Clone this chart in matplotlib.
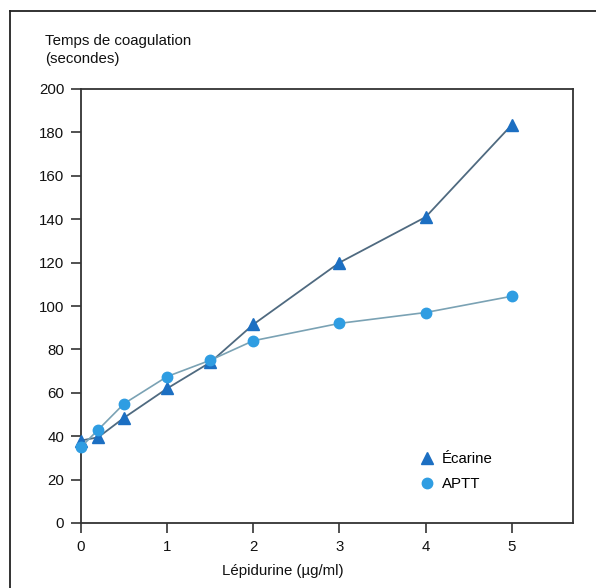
import matplotlib.pyplot as plt
from matplotlib.lines import Line2D

plt.rcParams['font.family'] = ['Liberation Sans', 'DejaVu Sans']

# Lépidurine concentration (µg/ml)
dose = [0, 0.2, 0.5, 1, 1.5, 2, 3, 4, 5]
# Temps de coagulation (s)
ecarine = [38, 39.5, 48.5, 62, 74, 91.5, 120, 141, 183.5]
aptt = [35, 43, 55, 67.5, 75, 84, 92, 97, 104.5]

x_ticks = [0, 1, 2, 3, 4, 5]
y_ticks = [0, 20, 40, 60, 80, 100, 120, 140, 160, 180, 200]

W, H = 596, 588
fig = plt.figure(figsize=(W / 100, H / 100), dpi=100)
ax = fig.add_axes([81 / W, 1 - 523 / H, (573 - 81) / W, (523 - 89) / H])

c_tri = '#1c6fc2'
c_dot = '#2f9de2'
ax.plot(dose, ecarine, color='#4f6a80', lw=1.3, marker='^', ms=9,
        mfc=c_tri, mec=c_tri, clip_on=False, zorder=3)
ax.plot(dose, aptt, color='#7aa2b4', lw=1.2, marker='o', ms=7.5,
        mfc=c_dot, mec=c_dot, clip_on=False, zorder=3)

ax.set_xlim(0, 5.71)
ax.set_ylim(0, 200)
ax.set_xticks(x_ticks)
ax.set_yticks(y_ticks)
for s in ax.spines.values():
    s.set_color('#333333')
    s.set_linewidth(1.3)
ax.tick_params(direction='out', length=7, width=1.2, color='#333333',
               labelsize=10.8, pad=5, labelcolor='#111111')

ax.set_xlabel('Lépidurine (µg/ml)', fontsize=10.8, color='#111111')
ax.xaxis.set_label_coords(0.41, -0.095)

fig.text(45 / W, 1 - 34 / H, 'Temps de coagulation\n(secondes)', fontsize=10.8,
         va='top', ha='left', color='#111111', linespacing=1.35)

handles = [
    Line2D([], [], ls='none', marker='^', ms=9, mfc=c_tri, mec=c_tri),
    Line2D([], [], ls='none', marker='o', ms=7.5, mfc=c_dot, mec=c_dot),
]
ax.legend(handles, ['Écarine', 'APTT'], loc='upper left',
          bbox_to_anchor=(0.66, 0.195), frameon=False, fontsize=10.8,
          handlelength=1.0, handletextpad=0.5, labelspacing=0.75)

# outer frame of the scanned figure (open at right and bottom)
fig.add_artist(Line2D([10 / W, 1], [1 - 11 / H, 1 - 11 / H],
                      transform=fig.transFigure, color='#222222', lw=1.3))
fig.add_artist(Line2D([10 / W, 10 / W], [0, 1 - 11 / H],
                      transform=fig.transFigure, color='#222222', lw=1.3))

fig.savefig('out.png', dpi=100)
